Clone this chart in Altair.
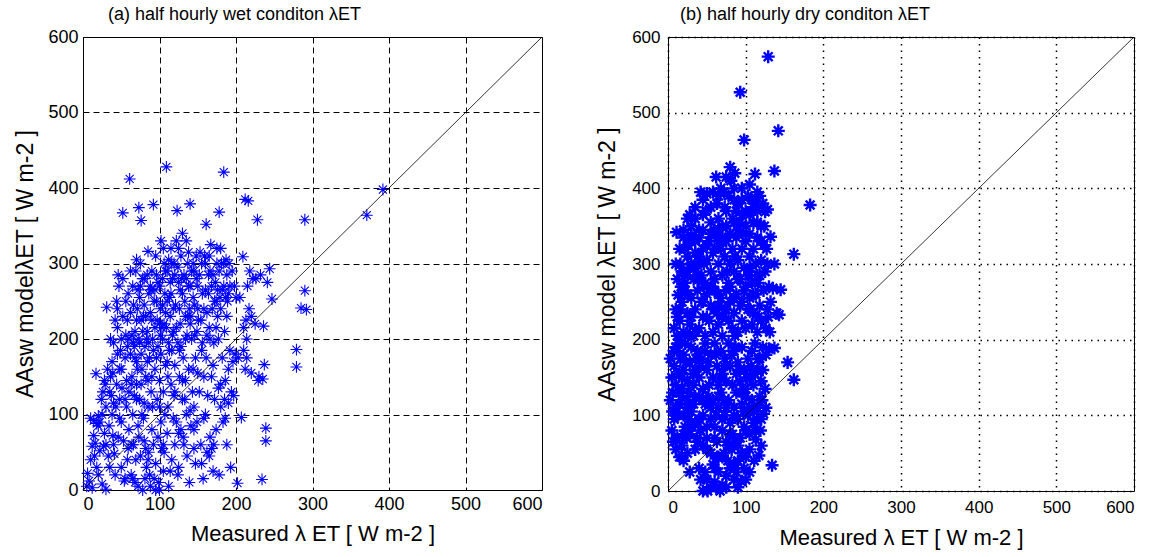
import altair as alt
import pandas as pd

# Half-hourly latent heat flux: measured vs AAsw model, (measured, modelled) pairs in W m-2

# ---- (a) wet condition ----
wet_low = [(5, 5), (8, 12), (10, 40), (12, 58), (10, 95), (14, 92), (18, 88), (20, 85), (22, 90), (15, 45),
           (18, 30), (20, 20), (25, 8), (27, 58), (30, 1), (12, 3), (16, 62), (22, 52), (24, 120), (26, 130),
           (28, 145), (30, 110), (17, 154), (31, 242), (20, 98), (28, 75), (25, 100), (6, 22), (14, 72), (29, 140)]
wet_30_60 = [(33, 45), (35, 130), (36, 150), (38, 100), (38, 170), (40, 195), (40, 60), (42, 20), (42, 225),
             (44, 140), (45, 215), (45, 180), (46, 285), (47, 270), (48, 120), (48, 95), (50, 160), (50, 30),
             (50, 200), (52, 367), (52, 230), (53, 65), (55, 175), (55, 15), (56, 250), (57, 110), (58, 190),
             (58, 40), (59, 260), (60, 80), (34, 85), (37, 125), (39, 155), (41, 48), (43, 110), (44, 250),
             (46, 70), (49, 185), (51, 135), (54, 12), (56, 205), (57, 145), (59, 55), (32, 160), (36, 200), (39, 72)]
wet_60_90 = [(61, 412), (62, 235), (62, 180), (63, 20), (64, 150), (65, 270), (65, 100), (66, 60), (67, 190),
             (68, 10), (68, 210), (69, 290), (70, 305), (70, 140), (71, 240), (72, 5), (72, 85), (73, 374),
             (73, 200), (74, 120), (75, 270), (75, 45), (76, 357), (76, 225), (77, 160), (78, 0), (78, 280),
             (79, 95), (80, 245), (80, 65), (81, 190), (82, 150), (83, 30), (84, 285), (84, 210), (85, 316),
             (85, 110), (86, 260), (86, 50), (87, 175), (88, 235), (88, 5), (89, 130), (90, 290), (90, 80),
             (63, 140), (66, 195), (67, 125), (69, 40), (71, 160), (74, 255), (76, 180), (77, 100), (79, 230),
             (81, 15), (83, 200), (85, 145), (87, 20), (89, 265), (70, 170), (64, 60), (73, 70), (82, 55)]
wet_90_120 = [(91, 200), (92, 378), (92, 60), (93, 250), (94, 160), (95, 0), (95, 35), (96, 285), (97, 225),
              (97, 120), (98, 190), (99, 10), (100, 270), (100, 145), (101, 240), (102, 90), (102, 330),
              (103, 55), (104, 200), (105, 130), (105, 25), (106, 300), (107, 260), (108, 165), (109, 428),
              (109, 215), (110, 75), (110, 290), (111, 110), (112, 5), (112, 305), (113, 185), (114, 230),
              (115, 320), (115, 140), (116, 40), (117, 280), (118, 95), (118, 210), (119, 300), (120, 165),
              (120, 60), (91, 110), (93, 15), (96, 175), (98, 70), (101, 205), (104, 280), (106, 50), (108, 235),
              (111, 150), (113, 255), (116, 185), (119, 125), (100, 0), (107, 100), (114, 25), (117, 205),
              (94, 265), (103, 215)]
wet_120_150 = [(121, 245), (122, 330), (122, 90), (123, 370), (124, 195), (125, 275), (125, 30), (126, 150),
               (127, 220), (128, 310), (128, 80), (129, 280), (130, 120), (130, 340), (131, 175), (132, 60),
               (133, 250), (134, 200), (135, 100), (135, 280), (136, 45), (137, 230), (138, 160), (138, 315),
               (139, 10), (140, 379), (140, 270), (141, 85), (142, 200), (143, 130), (144, 300), (145, 55),
               (146, 245), (147, 175), (148, 310), (149, 90), (150, 270), (124, 20), (127, 265), (131, 70),
               (134, 145), (137, 300), (141, 230), (144, 160), (147, 35), (149, 210), (126, 185), (133, 120),
               (139, 240), (145, 110)]
wet_150_200 = [(151, 225), (152, 130), (153, 315), (154, 60), (155, 185), (156, 260), (157, 15), (158, 95),
               (159, 310), (160, 265), (161, 352), (161, 175), (162, 50), (163, 125), (164, 285), (165, 215),
               (166, 70), (167, 325), (168, 150), (169, 240), (170, 25), (171, 195), (172, 120), (173, 275),
               (174, 80), (175, 300), (176, 230), (177, 135), (178, 368), (178, 20), (179, 255), (180, 110),
               (181, 300), (182, 175), (183, 90), (184, 421), (184, 270), (185, 210), (186, 145), (187, 305),
               (188, 60), (189, 250), (190, 115), (191, 300), (192, 185), (193, 30), (194, 130), (195, 290),
               (196, 170), (197, 125), (198, 270), (199, 180), (200, 255), (155, 35), (162, 205), (168, 55),
               (174, 250), (180, 320), (186, 95), (192, 270), (158, 150), (166, 290), (171, 60), (177, 200),
               (188, 230)]
wet_200_250 = [(202, 9), (203, 175), (205, 255), (207, 96), (209, 309), (210, 185), (212, 385), (212, 160),
               (213, 225), (214, 200), (215, 270), (216, 383), (217, 240), (218, 290), (220, 155), (222, 280),
               (225, 220), (228, 358), (229, 145), (230, 150), (232, 285), (234, 14), (235, 147), (236, 217),
               (237, 166), (239, 82), (239, 65), (241, 275), (244, 293), (247, 253), (210, 215), (214, 175),
               (220, 230), (226, 280)]
wet_high = [(279, 186), (279, 163), (285, 241), (290, 264), (290, 358), (292, 239), (371, 364), (392, 398)]
wet_core = [(45, 240), (48, 160), (52, 280), (55, 120), (58, 225), (62, 290), (64, 205), (66, 245), (68, 175),
            (70, 225), (72, 265), (74, 195), (76, 140), (78, 210), (80, 280), (82, 230), (84, 170), (86, 195),
            (88, 270), (90, 225), (92, 185), (94, 215), (96, 250), (98, 275), (100, 220), (102, 180), (104, 245),
            (106, 220), (108, 290), (110, 250), (112, 195), (114, 275), (116, 300), (118, 240), (120, 285),
            (122, 215), (124, 295), (126, 240), (128, 190), (130, 260), (132, 285), (134, 230), (136, 205),
            (138, 270), (140, 220), (142, 290), (144, 255), (146, 205), (148, 280), (150, 240), (152, 285),
            (154, 225), (156, 195), (158, 240), (160, 300), (162, 235), (164, 260), (166, 200), (168, 270),
            (170, 285), (172, 250), (174, 215), (176, 265), (178, 290), (180, 240), (182, 265), (184, 300),
            (186, 255), (188, 285), (190, 260), (60, 200), (75, 300), (95, 310), (105, 320), (115, 260),
            (125, 320), (135, 330), (145, 290), (155, 300), (165, 310), (175, 320), (100, 110), (120, 130),
            (140, 105), (160, 100), (180, 140), (90, 150), (110, 170), (130, 145), (150, 155), (170, 165),
            (190, 160), (60, 130), (70, 120), (80, 115), (50, 90), (40, 115), (30, 60), (35, 30), (65, 15),
            (85, 40), (105, 60), (125, 75), (145, 80), (165, 45), (185, 120)]

# ---- (b) dry condition ----
dry_0_60 = [(45, 0), (51, 0), (55, 5), (60, 12), (67, 0), (70, 8), (75, 20), (80, 30), (85, 15), (90, 40),
            (94, 13), (48, 25), (58, 35), (63, 45), (72, 50), (82, 55), (95, 50), (100, 45), (40, 30), (35, 55),
            (28, 25), (20, 40), (15, 45), (50, 55), (88, 25), (65, 25), (55, 50), (77, 40), (105, 55),
            (117, 47), (120, 60), (134, 34), (42, 15), (62, 5), (98, 30)]
dry_60_130 = [(5, 80), (8, 95), (10, 110), (12, 70), (15, 115), (18, 60), (20, 100), (22, 85), (25, 120),
              (28, 75), (30, 105), (35, 90), (38, 65), (40, 125), (42, 80), (45, 100), (48, 115), (50, 70),
              (55, 95), (58, 120), (60, 85), (63, 65), (65, 110), (68, 130), (70, 80), (73, 100), (75, 65),
              (78, 120), (80, 90), (83, 75), (85, 110), (88, 130), (90, 95), (93, 70), (95, 115), (98, 85),
              (100, 125), (103, 100), (105, 75), (108, 120), (110, 90), (112, 80), (115, 110), (118, 125),
              (120, 95), (123, 102), (126, 110), (3, 120), (7, 65), (13, 100), (17, 125), (27, 95), (33, 115),
              (37, 70), (52, 125), (62, 100), (72, 120), (87, 65), (97, 105), (113, 68), (6, 105), (24, 70)]
dry_130_200 = [(5, 150), (8, 165), (10, 140), (12, 185), (14, 155), (16, 175), (18, 135), (20, 160), (22, 195),
               (25, 145), (28, 170), (30, 190), (33, 140), (35, 160), (38, 185), (40, 150), (43, 175), (45, 135),
               (48, 195), (50, 160), (53, 140), (55, 180), (58, 150), (60, 195), (63, 165), (65, 140), (68, 185),
               (70, 155), (73, 175), (75, 145), (78, 195), (80, 165), (83, 140), (85, 185), (88, 155), (90, 170),
               (93, 145), (95, 190), (98, 160), (100, 135), (103, 175), (105, 150), (108, 185), (110, 140),
               (112, 195), (115, 160), (118, 175), (120, 145), (116, 174), (137, 189), (130, 188), (154, 170),
               (162, 147), (125, 135), (3, 175), (27, 130), (47, 185), (67, 150), (87, 190), (107, 165),
               (122, 190), (13, 195), (36, 175)]
dry_200_270 = [(8, 215), (10, 240), (12, 205), (13, 259), (15, 225), (18, 250), (20, 210), (22, 265), (25, 235),
               (28, 220), (30, 255), (33, 205), (35, 240), (38, 265), (40, 215), (43, 250), (45, 230), (48, 205),
               (50, 260), (53, 225), (55, 245), (58, 210), (60, 265), (63, 235), (65, 220), (68, 255), (70, 205),
               (73, 240), (75, 265), (78, 225), (80, 250), (83, 215), (85, 235), (88, 260), (90, 210), (93, 245),
               (95, 225), (98, 265), (100, 215), (103, 240), (105, 255), (108, 220), (110, 235), (113, 260),
               (115, 210), (118, 245), (120, 225), (123, 265), (126, 215), (128, 240), (132, 250), (143, 233),
               (145, 266), (140, 235), (135, 268), (16, 240), (26, 205), (46, 270), (66, 245), (86, 205),
               (106, 240), (116, 230)]
dry_270_340 = [(10, 300), (12, 280), (15, 320), (18, 290), (20, 335), (22, 275), (25, 310), (28, 295), (30, 330),
               (33, 280), (35, 315), (38, 300), (40, 335), (43, 285), (45, 320), (48, 275), (50, 305), (53, 330),
               (55, 290), (58, 315), (60, 280), (63, 335), (65, 300), (68, 320), (70, 285), (73, 310), (75, 330),
               (78, 275), (80, 300), (83, 320), (85, 290), (88, 335), (90, 305), (93, 280), (95, 320), (98, 295),
               (100, 330), (103, 285), (105, 310), (108, 275), (110, 320), (113, 300), (115, 335), (118, 285),
               (120, 305), (123, 325), (125, 290), (128, 300), (132, 336), (137, 300), (162, 313), (11, 342),
               (30, 338), (16, 300), (36, 290), (56, 270), (76, 290), (96, 340), (116, 275), (26, 325),
               (46, 300), (66, 330), (86, 310), (106, 295)]
dry_high = [(20, 345), (25, 360), (30, 350), (35, 375), (40, 345), (45, 365), (49, 370), (50, 393), (55, 355),
            (58, 395), (60, 345), (63, 380), (65, 360), (68, 400), (70, 350), (73, 375), (75, 415), (78, 390),
            (80, 428), (81, 410), (83, 360), (85, 400), (88, 370), (90, 380), (93, 355), (95, 385), (100, 350),
            (103, 390), (105, 365), (108, 385), (110, 355), (112, 419), (113, 380), (115, 370), (118, 390),
            (120, 350), (122, 380), (125, 369), (128, 372), (137, 423), (142, 476), (98, 464), (93, 527),
            (129, 574), (183, 378), (42, 395), (62, 415), (72, 395), (86, 420)]
dry_core = [(15, 200), (20, 180), (25, 260), (30, 230), (35, 210), (40, 280), (45, 250), (50, 230), (55, 270),
            (60, 240), (65, 260), (70, 230), (75, 240), (80, 270), (85, 255), (90, 280), (95, 250), (100, 270),
            (105, 285), (110, 260), (115, 285), (20, 290), (25, 285), (30, 300), (35, 330), (40, 310), (45, 345),
            (50, 325), (55, 340), (60, 320), (65, 345), (70, 335), (75, 350), (80, 340), (85, 355), (90, 345),
            (95, 365), (100, 370), (105, 340), (110, 375), (115, 355), (120, 330), (18, 150), (23, 170),
            (32, 155), (42, 165), (52, 170), (62, 180), (72, 165), (82, 180), (92, 160), (102, 150), (112, 155),
            (122, 160), (10, 190), (15, 130), (25, 110), (35, 125), (45, 120), (55, 110), (65, 125), (75, 110),
            (85, 100), (95, 130), (105, 110), (115, 95), (20, 75), (30, 85), (40, 95), (50, 85), (60, 70),
            (70, 95), (80, 75), (90, 60), (100, 80), (110, 105), (10, 55), (25, 50), (45, 60), (65, 45), (85, 35),
            (105, 25), (60, 30), (75, 5), (50, 15), (90, 5), (55, 375), (65, 390), (75, 370), (85, 385), (95, 400),
            (105, 405), (115, 395), (45, 385), (35, 360), (28, 365), (22, 320), (17, 270), (12, 230), (8, 185),
            (6, 130), (130, 270), (127, 320), (124, 350), (129, 230), (131, 210), (126, 180), (121, 120),
            (119, 80), (111, 40), (100, 15), (70, 45), (78, 60)]

ticks = [0, 100, 200, 300, 400, 500, 600]
one_to_one = [0, 600]

wet = pd.DataFrame(wet_low + wet_30_60 + wet_60_90 + wet_90_120 + wet_120_150 + wet_150_200
                   + wet_200_250 + wet_high + wet_core, columns=["measured", "model"])
dry = pd.DataFrame(dry_0_60 + dry_60_130 + dry_130_200 + dry_200_270 + dry_270_340 + dry_high + dry_core,
                   columns=["measured", "model"])
diag = pd.DataFrame({"measured": one_to_one, "model": one_to_one})

# eight-armed asterisk marker
ASTERISK = "M-1,0L1,0M0,-1L0,1M-0.68,-0.68L0.68,0.68M-0.68,0.68L0.68,-0.68"
FONT = "Liberation Sans"


def panel(df, title, title_dx, grid_dash, grid_width, marker_width, marker_size, label_size, w, h,
          title_pad, label_pad):
    def axis(t, size):
        return alt.Axis(values=ticks, grid=True, gridDash=grid_dash, gridColor="black", gridOpacity=1,
                        gridWidth=grid_width, domain=False, ticks=False, labelFont=FONT,
                        labelFontSize=label_size, labelColor="black", labelPadding=label_pad,
                        title=t, titleFont=FONT, titleFontSize=size, titleFontWeight="normal",
                        titleColor="black", titlePadding=title_pad)

    x = alt.X("measured:Q", scale=alt.Scale(domain=[0, 600], nice=False, zero=False),
              axis=axis("Measured λ ET [ W m-2 ]", 22))
    y = alt.Y("model:Q", scale=alt.Scale(domain=[0, 600], nice=False, zero=False),
              axis=axis(title[1], 23))
    pts = alt.Chart(df).mark_point(shape=ASTERISK, filled=False, stroke="#0000ff",
                                   strokeWidth=marker_width, size=marker_size, opacity=1).encode(x=x, y=y)
    line = alt.Chart(diag).mark_line(color="black", strokeWidth=0.8).encode(x="measured:Q", y="model:Q")
    return alt.layer(pts, line).properties(
        width=w, height=h,
        title=alt.TitleParams(title[0], anchor="start", frame="group", dx=title_dx, fontSize=18, font=FONT,
                              fontWeight="normal", color="black", offset=4),
    )


left = panel(wet, ("(a) half hourly wet conditon λET", "AAsw modelλET [ W m-2 ]"), 25,
             [6, 4], 1, 1.1, 140, 18, 459, 453, 10, 5)
right = panel(dry, ("(b) half hourly dry conditon λET", "AAsw model λET [ W m-2 ]"), 12,
              [1.5, 5], 1.5, 2.4, 170, 17, 466, 454, 12, 8)

chart = alt.hconcat(left, right, spacing=51).configure_view(stroke="black", strokeWidth=1).properties(
    padding={"left": 14, "top": 5, "right": 5, "bottom": 5}, background="white")

chart.save("out.html", embed_options={"renderer": "svg", "actions": False})
